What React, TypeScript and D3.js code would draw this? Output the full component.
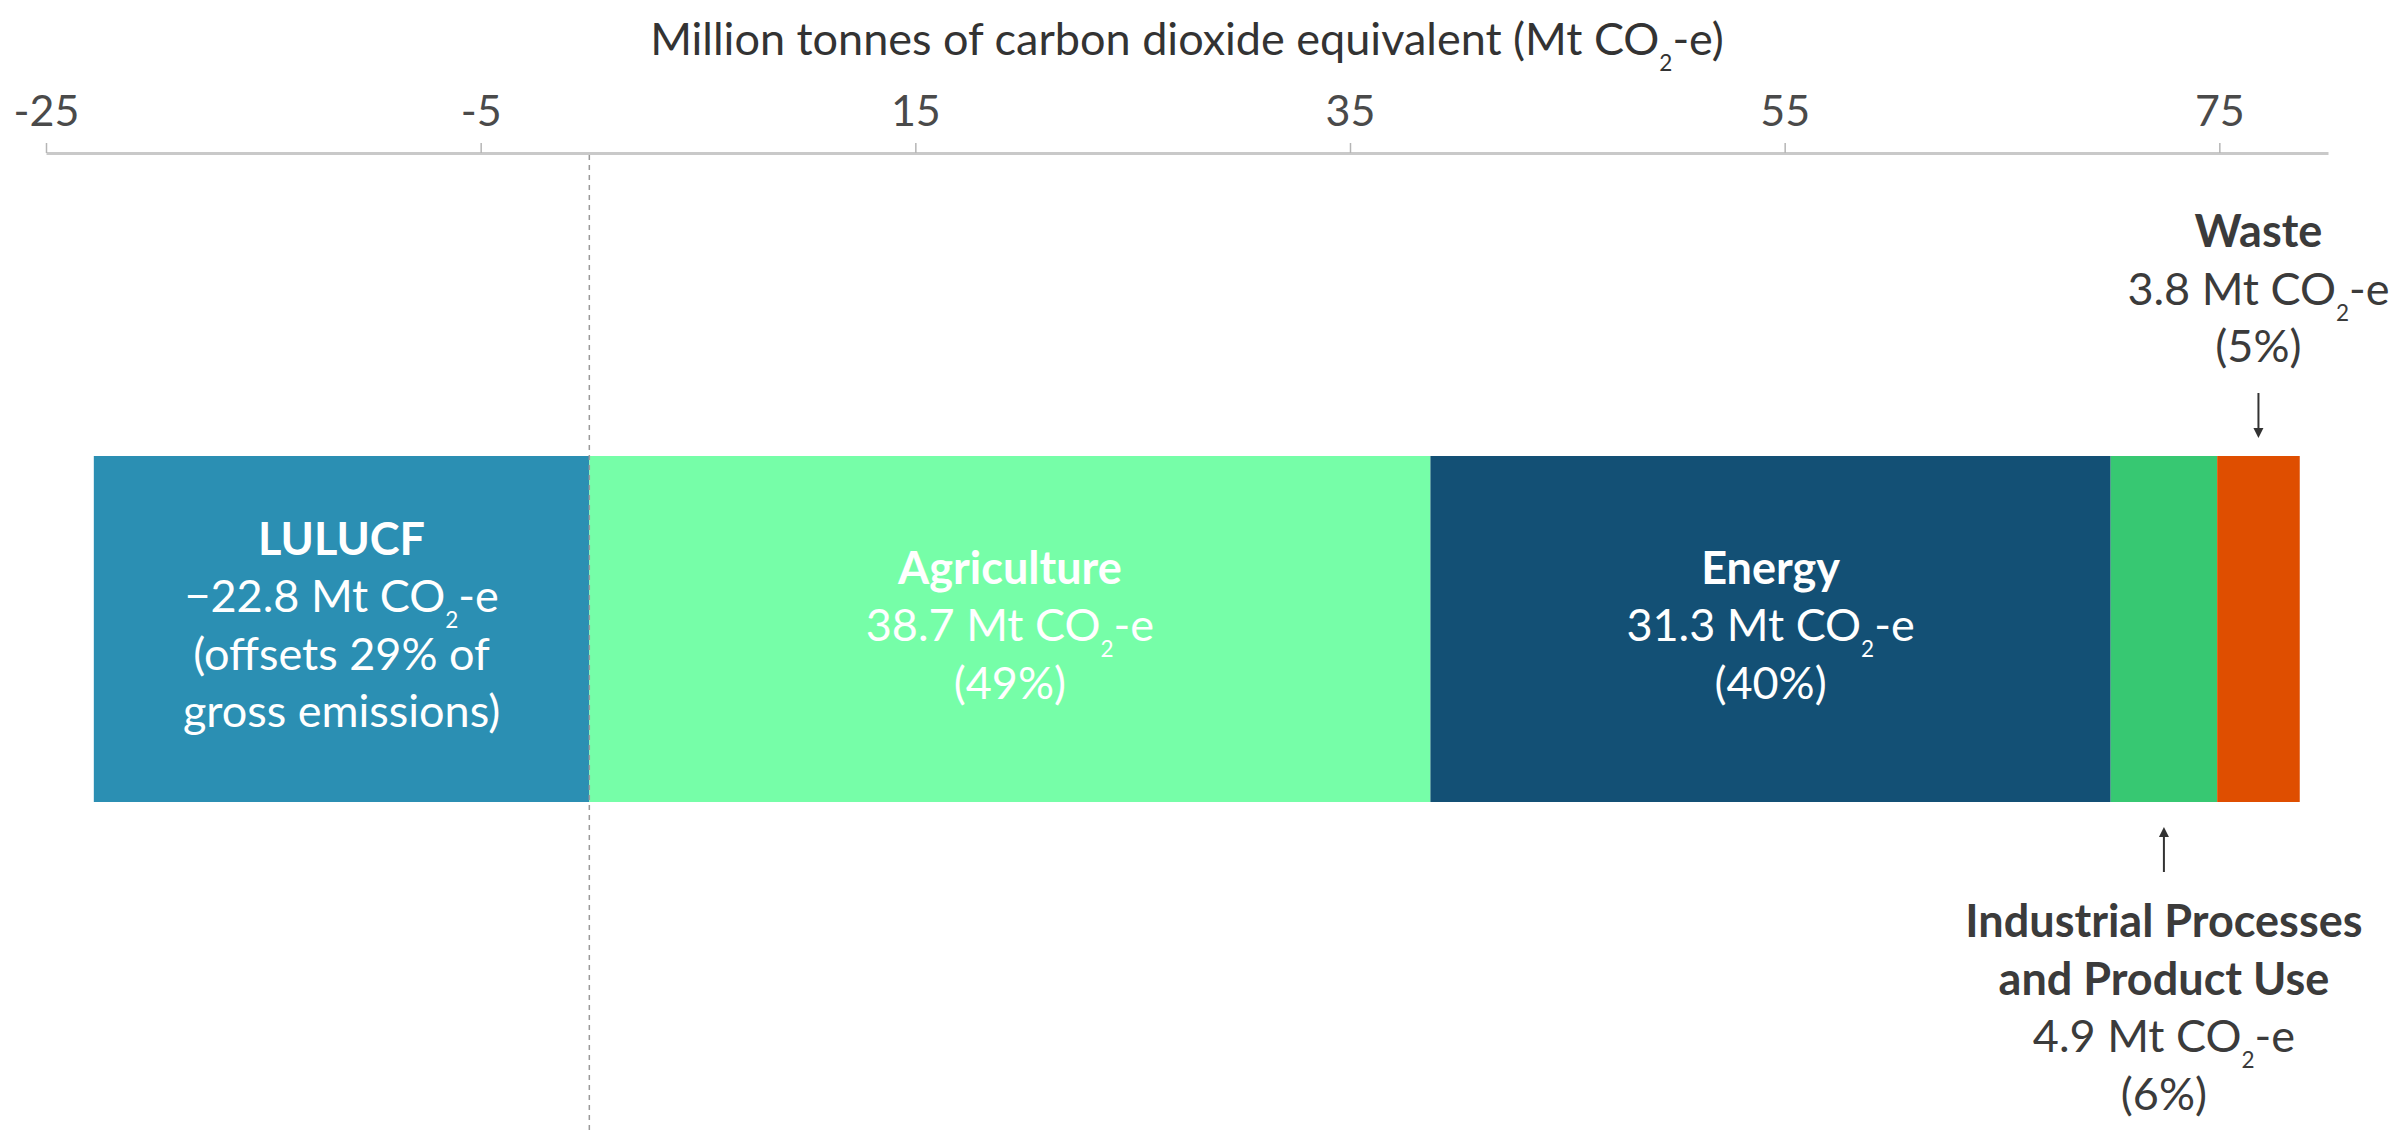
import React, { useEffect, useRef } from "react";
import * as d3 from "d3";

// ---- data ----
const categories = ["LULUCF", "Agriculture", "Energy", "Industrial Processes and Product Use", "Waste"];
const nameLines = [["LULUCF"], ["Agriculture"], ["Energy"], ["Industrial Processes", "and Product Use"], ["Waste"]];
const values = [-22.8, 38.7, 31.3, 4.9, 3.8];
const shares = [29, 49, 40, 6, 5];
const colors = ["#2b8fb3", "#76fea8", "#135075", "#37c872", "#df4e00"];
const labelPlacement = ["inside", "inside", "inside", "below", "above"];
const tickValues = [-25, -5, 15, 35, 55, 75];
const xDomain = [-25, 80];
const axisTitle = "Million tonnes of carbon dioxide equivalent (Mt CO2-e)";

const W = 2402;
const H = 1130;
const FONT = "Lato, 'Noto Sans', sans-serif";
const FS = 45;
const LH = 57.5;
const BAR_TOP = 456;
const BAR_BOTTOM = 802;
const AXIS_Y = 153;

const fmt = d3.format(".1f");

function CO2Text({ text, fs }: { text: string; fs: number }) {
  const idx = text.indexOf("CO2");
  if (idx < 0) return <>{text}</>;
  const before = text.slice(0, idx + 2);
  const after = text.slice(idx + 3);
  const shift = fs * 0.36;
  return (
    <>
      <tspan>{before}</tspan>
      <tspan dy={shift} fontSize={fs * 0.5}>2</tspan>
      <tspan dy={-shift}>{after}</tspan>
    </>
  );
}

export default function App() {
  const axisRef = useRef<SVGGElement>(null);
  const x = d3.scaleLinear().domain(xDomain).range([46, 2328]);

  // stacked segments
  let pos = 0;
  let neg = 0;
  const segs = values.map((v, i) => {
    let x0, x1;
    if (v < 0) {
      x1 = neg;
      x0 = neg + v;
      neg = x0;
    } else {
      x0 = pos;
      x1 = pos + v;
      pos = x1;
    }
    return { i, x0, x1, v };
  });

  useEffect(() => {
    document.body.style.margin = "0";
    if (!axisRef.current) return;
    const g = d3.select(axisRef.current);
    g.selectAll("*").remove();
    g.call(
      d3
        .axisTop(x)
        .tickValues(tickValues)
        .tickSize(10)
        .tickSizeOuter(0)
        .tickPadding(17)
        .tickFormat((d: any) => String(d))
    );
    g.select(".domain").attr("stroke", "#c9c9c9").attr("stroke-width", 3);
    g.selectAll(".tick line").attr("stroke", "#b5b5b5").attr("stroke-width", 1.5);
    g.selectAll(".tick text")
      .attr("fill", "#4a4a4a")
      .attr("font-size", 43)
      .attr("font-family", FONT);
  }, []);

  const cy = (BAR_TOP + BAR_BOTTOM) / 2;

  const labels = segs.map((s) => {
    const i = s.i;
    const cx = (x(s.x0) + x(s.x1)) / 2;
    const valueLine = `${fmt(values[i])} Mt CO2-e`;
    const shareLinesArr =
      values[i] < 0 ? [`(offsets ${shares[i]}% of`, "gross emissions)"] : [`(${shares[i]}%)`];
    const lines = [
      ...nameLines[i].map((t) => ({ t, bold: true })),
      { t: valueLine, bold: false },
      ...shareLinesArr.map((t) => ({ t, bold: false })),
    ];
    const place = labelPlacement[i];
    let first: number;
    let fill: string;
    let arrow: React.ReactNode = null;
    if (place === "inside") {
      first = cy - ((lines.length - 1) * LH) / 2 + 12;
      fill = "#ffffff";
    } else if (place === "above") {
      first = 247;
      fill = "#3b3b3b";
      const y1 = 393;
      const y2 = BAR_TOP - 18;
      arrow = (
        <g>
          <line x1={cx} x2={cx} y1={y1} y2={y2 - 8} stroke="#333" strokeWidth={2} />
          <path d={`M${cx - 5},${y2 - 10} L${cx + 5},${y2 - 10} L${cx},${y2} Z`} fill="#333" />
        </g>
      );
    } else {
      first = 937;
      fill = "#3b3b3b";
      const y1 = BAR_BOTTOM + 25;
      const y2 = 872;
      arrow = (
        <g>
          <line x1={cx} x2={cx} y1={y1 + 8} y2={y2} stroke="#333" strokeWidth={2} />
          <path d={`M${cx - 5},${y1 + 10} L${cx + 5},${y1 + 10} L${cx},${y1} Z`} fill="#333" />
        </g>
      );
    }
    return (
      <g key={categories[i]}>
        {arrow}
        {lines.map((ln, k) => (
          <text
            key={k}
            x={cx}
            y={first + k * LH}
            textAnchor="middle"
            fontFamily={FONT}
            fontSize={FS}
            fontWeight={ln.bold ? 700 : 400}
            fill={fill}
          >
            <CO2Text text={ln.t} fs={FS} />
          </text>
        ))}
      </g>
    );
  });

  return (
    <svg
      width={W}
      height={H}
      viewBox={`0 0 ${W} ${H}`}
      style={{ position: "absolute", left: 0, top: 0, background: "#ffffff" }}
    >
      <text
        x={(x(xDomain[0]) + x(xDomain[1])) / 2}
        y={55}
        textAnchor="middle"
        fontFamily={FONT}
        fontSize={45}
        fill="#333333"
      >
        <CO2Text text={axisTitle} fs={45} />
      </text>
      <g ref={axisRef} transform={`translate(0,${AXIS_Y})`} />
      {segs.map((s) => (
        <rect
          key={categories[s.i]}
          x={x(s.x0)}
          y={BAR_TOP}
          width={x(s.x1) - x(s.x0)}
          height={BAR_BOTTOM - BAR_TOP}
          fill={colors[s.i]}
        />
      ))}
      <line
        x1={x(0)}
        x2={x(0)}
        y1={AXIS_Y + 2}
        y2={H}
        stroke="#9a9a9a"
        strokeWidth={1.5}
        strokeDasharray="5,5"
      />
      {labels}
    </svg>
  );
}
